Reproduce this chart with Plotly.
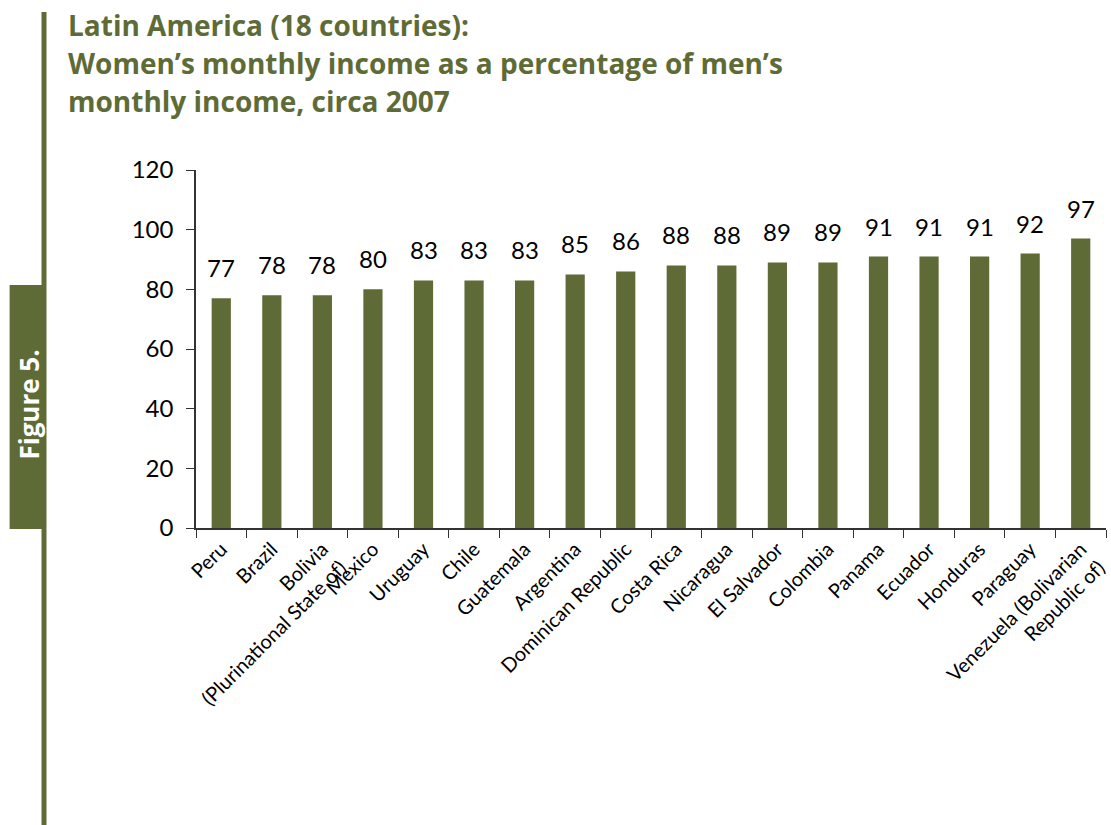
import plotly.graph_objects as go

countries = [
    "Peru", "Brazil", "Bolivia<br>(Plurinational State of)", "Mexico", "Uruguay",
    "Chile", "Guatemala", "Argentina", "Dominican Republic", "Costa Rica",
    "Nicaragua", "El Salvador", "Colombia", "Panama", "Ecuador", "Honduras",
    "Paraguay", "Venezuela (Bolivarian<br>Republic of)",
]
ratio = [77, 78, 78, 80, 83, 83, 83, 85, 86, 88, 88, 89, 89, 91, 91, 91, 92, 97]
y_ticks = [0, 20, 40, 60, 80, 100, 120]

OLIVE = "#5f6b37"
W, H = 1111, 825
L, R, T, B = 196, 2, 170, 297
PW, PH = W - L - R, H - T - B


def px_x(x):
    return (x - L) / PW


def px_y(y):
    return (H - B - y) / PH


fig = go.Figure()
fig.add_trace(go.Bar(
    x=countries, y=ratio, marker_color=OLIVE, marker_line_width=0,
    width=0.38, hoverinfo="skip",
))

# value labels above each bar
for c, v in zip(countries, ratio):
    fig.add_annotation(
        x=c, y=v, text=str(v), showarrow=False, yanchor="bottom",
        yshift=14, font=dict(family="Lato", size=24, color="#000000"),
    )

fig.update_xaxes(
    showline=True, linecolor="#333333", linewidth=1.5,
    ticks="outside", tickson="boundaries", ticklen=8, tickcolor="#333333",
    tickangle=-45, tickfont=dict(family="Lato", size=20, color="#000000"),
    showgrid=False,
)
fig.update_yaxes(
    range=[0, 120], tickvals=y_ticks, showline=True, linecolor="#333333",
    linewidth=1.5, ticks="outside", ticklen=8, tickcolor="#333333",
    ticklabelstandoff=8,
    tickfont=dict(family="Lato", size=24, color="#000000"), showgrid=False,
    zeroline=False,
)

# decorative rule and side tab
fig.add_shape(type="rect", xref="paper", yref="paper",
              x0=px_x(41), x1=px_x(46), y0=px_y(825), y1=px_y(12),
              fillcolor=OLIVE, line_width=0, layer="above")
fig.add_shape(type="rect", xref="paper", yref="paper",
              x0=px_x(9), x1=px_x(43), y0=px_y(529), y1=px_y(285),
              fillcolor=OLIVE, line_width=0, layer="above")
fig.add_annotation(
    xref="paper", yref="paper", x=px_x(28), y=px_y(405),
    xanchor="center", yanchor="middle",
    text="<b>Figure 5.</b>", textangle=-90, showarrow=False,
    font=dict(family="Open Sans", size=26, color="#ffffff"),
)

title_lines = [
    "Latin America (18 countries):",
    "Women\u2019s monthly income as a percentage of men\u2019s",
    "monthly income, circa 2007",
]
for i, line in enumerate(title_lines):
    fig.add_annotation(
        xref="paper", yref="paper", x=px_x(66), y=px_y(25 + 38 * i),
        xanchor="left", yanchor="middle", text=f"<b>{line}</b>",
        showarrow=False,
        font=dict(family="Open Sans", size=28, color=OLIVE),
    )

fig.update_layout(
    width=W, height=H, margin=dict(l=L, r=R, t=T, b=B),
    plot_bgcolor="#ffffff", paper_bgcolor="#ffffff", showlegend=False,
    bargap=0.62,
)

fig.write_html("out.html")
